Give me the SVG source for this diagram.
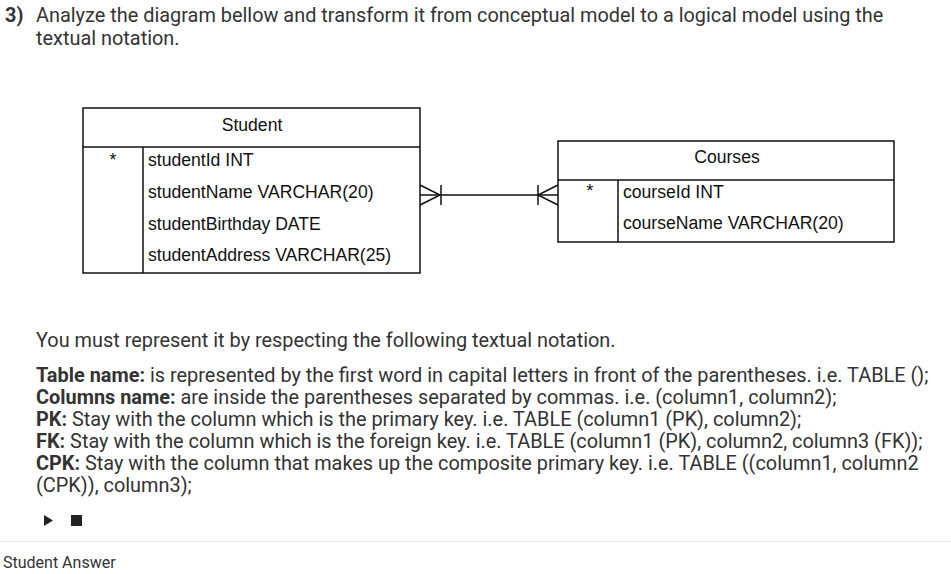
<svg xmlns="http://www.w3.org/2000/svg" width="951" height="574" viewBox="0 0 951 574">
<style>
.q{font-family:Roboto,"Liberation Sans",sans-serif;font-size:19.9px;fill:#333}
.b{font-weight:bold}
.d{font-family:"Liberation Sans",Arial,sans-serif;font-size:17.6px;fill:#111}
.box{fill:#fff;stroke:#111;stroke-width:1.5}
.ln{stroke:#111;stroke-width:1.5;fill:none}
</style>
<rect width="951" height="574" fill="#fff"/>
<text class="q" x="5" y="22"><tspan class="b">3)</tspan></text>
<text class="q" x="36" y="22">Analyze the diagram bellow and transform it from conceptual model to a logical model using the</text>
<text class="q" x="36" y="45">textual notation.</text>

<g id="student">
<rect class="box" x="83" y="108" width="337" height="165"/>
<line class="ln" x1="83" y1="147" x2="420" y2="147"/>
<line class="ln" x1="143" y1="147" x2="143" y2="273"/>
<text class="d" x="252" y="131" text-anchor="middle">Student</text>
<text class="d" x="113" y="166" text-anchor="middle">*</text>
<text class="d" x="148" y="166">studentId INT</text>
<text class="d" x="148" y="198">studentName VARCHAR(20)</text>
<text class="d" x="148" y="230">studentBirthday DATE</text>
<text class="d" x="148" y="261">studentAddress VARCHAR(25)</text>
</g>

<g id="courses">
<rect class="box" x="558" y="141" width="336" height="101"/>
<line class="ln" x1="558" y1="180" x2="894" y2="180"/>
<line class="ln" x1="618" y1="180" x2="618" y2="242"/>
<text class="d" x="727" y="163" text-anchor="middle">Courses</text>
<text class="d" x="590" y="197" text-anchor="middle">*</text>
<text class="d" x="623" y="198">courseId INT</text>
<text class="d" x="623" y="229">courseName VARCHAR(20)</text>
</g>

<g id="connectors">
<line class="ln" x1="420" y1="195" x2="558" y2="195"/>
<polyline class="ln" points="420,185 440,195 420,205"/>
<line class="ln" x1="441" y1="185" x2="441" y2="205"/>
<polyline class="ln" points="558,185 538,195 558,205"/>
<line class="ln" x1="538" y1="185" x2="538" y2="205"/>
</g>

<text class="q" x="36" y="347">You must represent it by respecting the following textual notation.</text>
<text class="q" x="36" y="382"><tspan class="b">Table name:</tspan> is represented by the first word in capital letters in front of the parentheses. i.e. TABLE ();</text>
<text class="q" x="36" y="404"><tspan class="b">Columns name:</tspan> are inside the parentheses separated by commas. i.e. (column1, column2);</text>
<text class="q" x="36" y="426"><tspan class="b">PK:</tspan> Stay with the column which is the primary key. i.e. TABLE (column1 (PK), column2);</text>
<text class="q" x="36" y="448"><tspan class="b">FK:</tspan> Stay with the column which is the foreign key. i.e. TABLE (column1 (PK), column2, column3 (FK));</text>
<text class="q" x="36" y="470"><tspan class="b">CPK:</tspan> Stay with the column that makes up the composite primary key. i.e. TABLE ((column1, column2</text>
<text class="q" x="36" y="492">(CPK)), column3);</text>
<polygon points="44,515 53,520.5 44,526" fill="#222"/>
<rect x="71" y="515" width="11" height="11" fill="#222"/>
<line x1="0" y1="541.5" x2="951" y2="541.5" stroke="#e6e6e6" stroke-width="1"/>
<text class="q" x="3" y="568" style="font-size:16px">Student Answer</text>
</svg>
